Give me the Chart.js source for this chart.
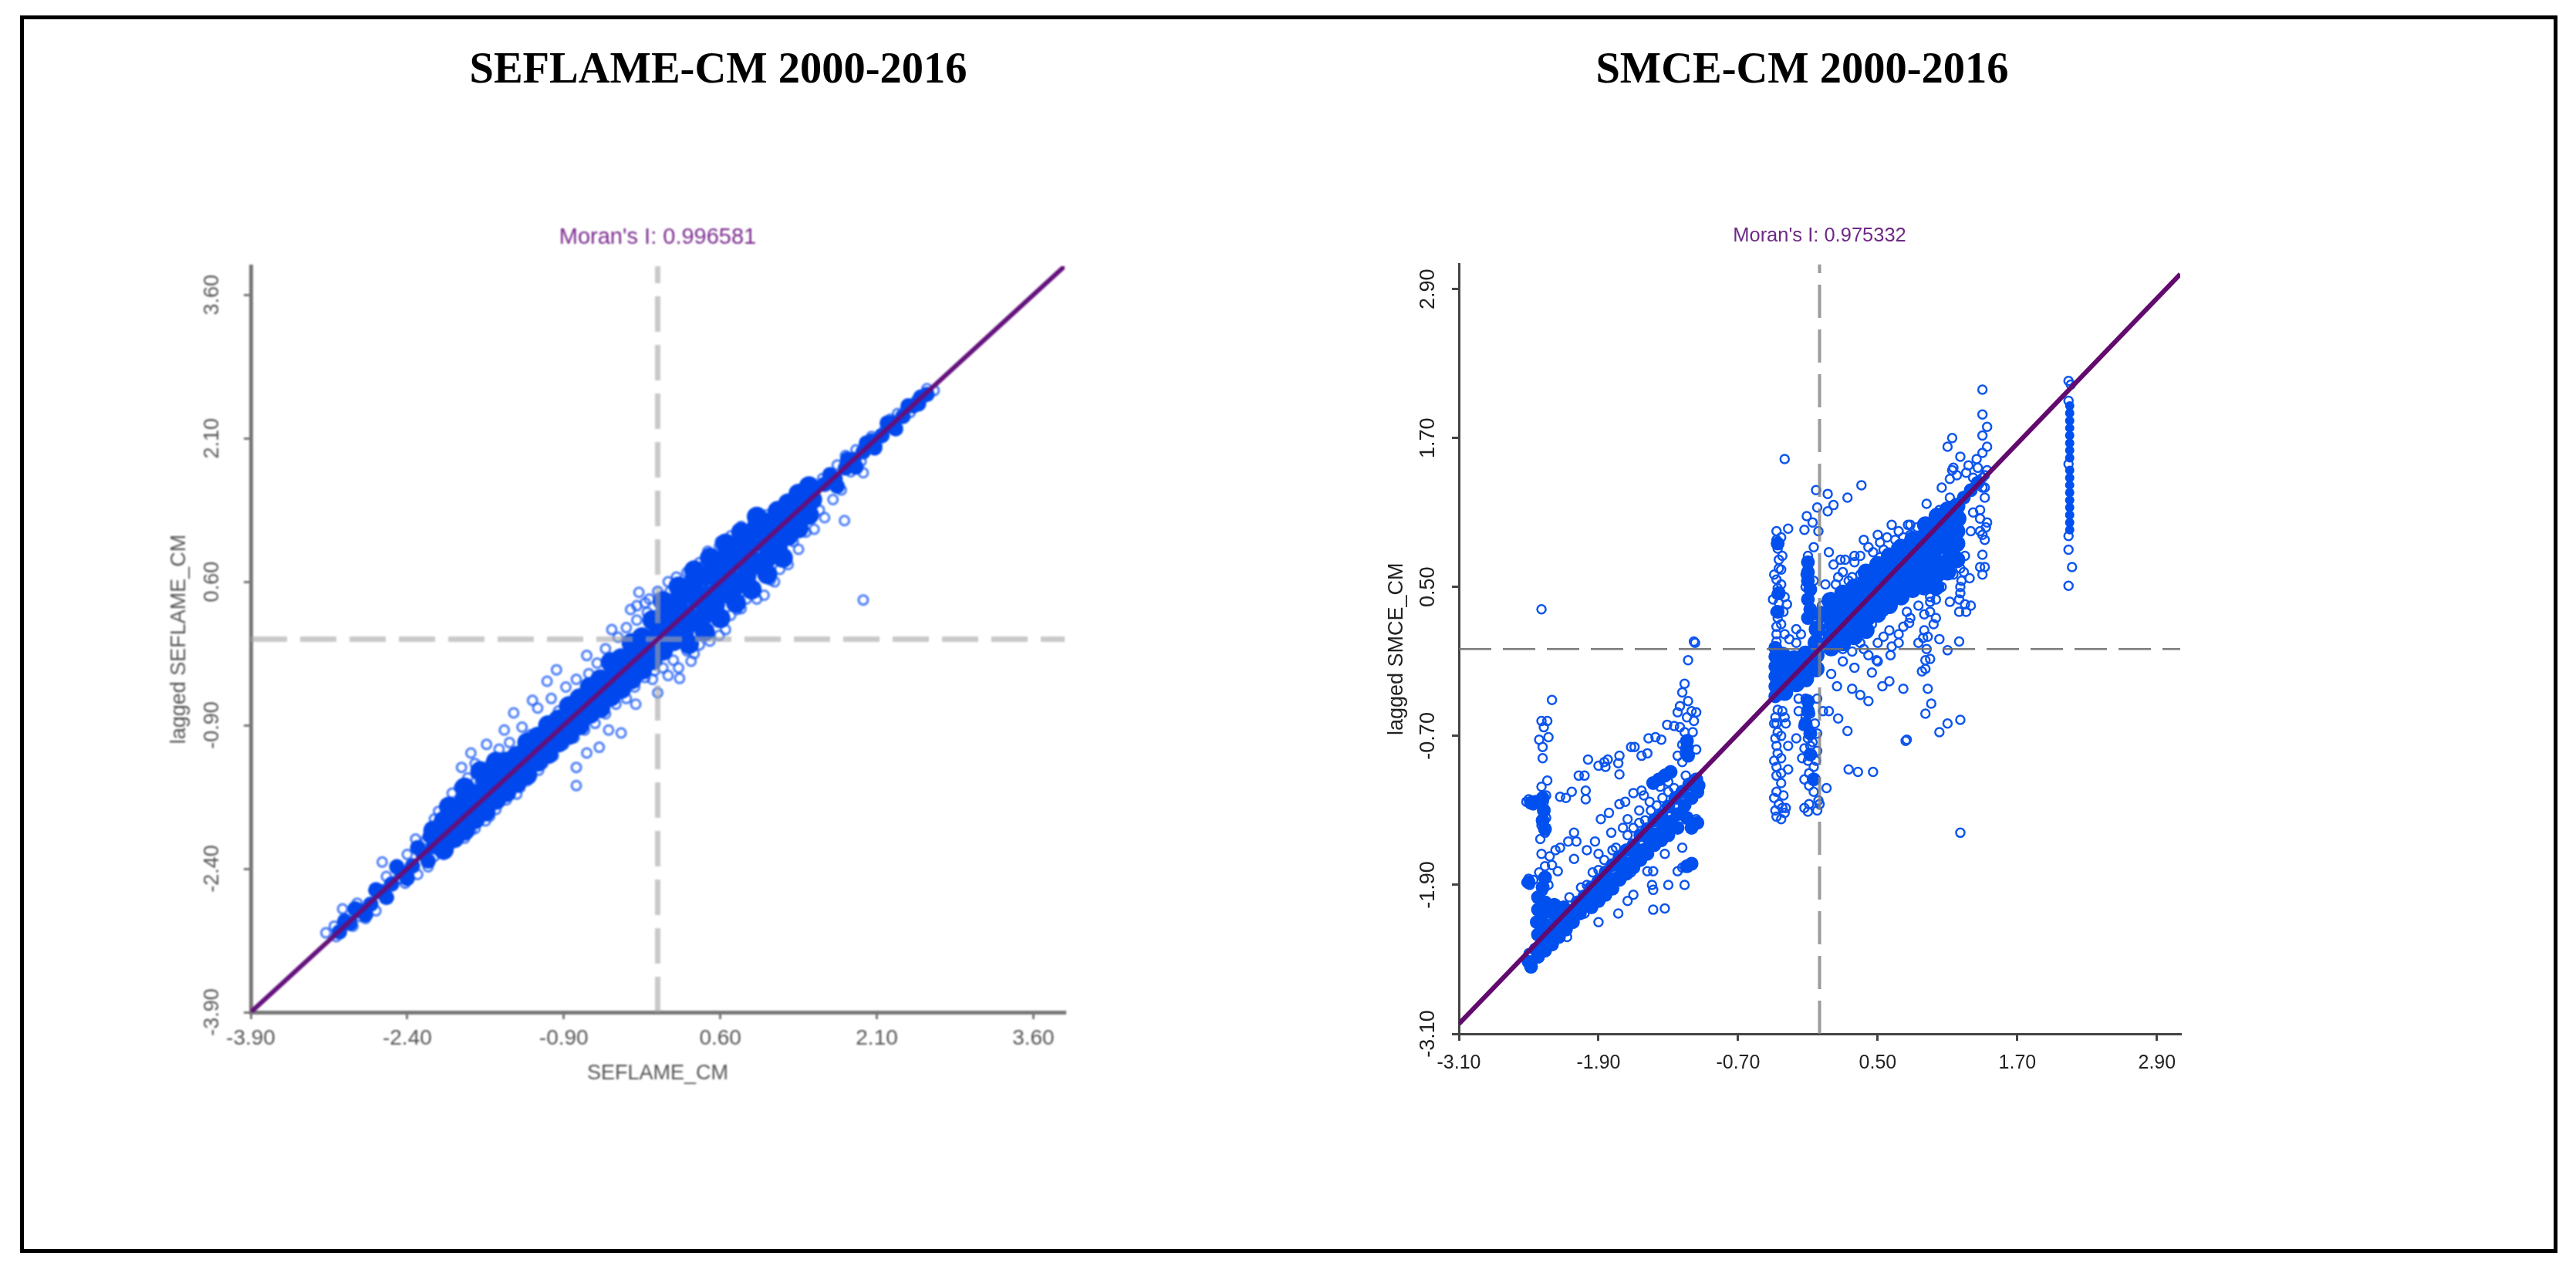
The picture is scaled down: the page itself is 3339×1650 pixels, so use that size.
<!DOCTYPE html>
<html>
<head>
<meta charset="utf-8">
<title>Moran scatter plots</title>
<script src="https://cdn.jsdelivr.net/npm/chart.js@4"></script>
<style>
  html, body { margin: 0; padding: 0; background: #fff; }
  #frame { position: absolute; left: 26px; top: 20px; width: 3279px; height: 1594px; border: 5px solid #000; }
  h2 { position: absolute; top: 56px; margin: 0; width: 900px; text-align: center; color: #000;
       font: bold 56.5px "Liberation Serif", serif; line-height: 64px; }
  #leftTitle { left: 481px; }
  #rightTitle { left: 1886px; }
  canvas { position: absolute; top: 260px; }
  #seflame { left: 152px; filter: blur(1.3px); }
  #smce { left: 1778px; filter: blur(0.5px); }
</style>
</head>
<body>
<div id="frame"></div>
<h2 id="leftTitle">SEFLAME-CM 2000-2016</h2>
<h2 id="rightTitle">SMCE-CM 2000-2016</h2>
<canvas id="seflame" width="1400" height="1180"></canvas>
<canvas id="smce" width="1161" height="1180"></canvas>
<script>
const seflameTicks = [-3.9, -2.4, -0.9, 0.6, 2.1, 3.6];
const smceTicks = [-3.1, -1.9, -0.7, 0.5, 1.7, 2.9];

const seflameLine = [[-3.9, -3.9], [3.9, 3.9]];
const smceLine = [[-3.1, -3.02], [3.1, 3.02]];

// solid part of the cloud, read along the band
const seflameCoreNarrow = [[-3.05,-3.06],[-2.95,-2.97],[-2.85,-2.84],[-2.75,-2.77],[-2.65,-2.64],[-2.55,-2.56],[-2.45,-2.44],[-2.35,-2.37],[-2.25,-2.24],[-2.15,-2.17],[1.6,1.62],[1.7,1.68],[1.8,1.79],[1.88,1.88],[1.97,1.96],[2.05,2.07],[2.15,2.13],[2.25,2.26],[2.35,2.33],[2.45,2.44],[2.52,2.53],
  [-3.0,-2.95],[-2.9,-2.82],[-2.8,-2.88],[-2.7,-2.62],[-2.6,-2.7],[-2.5,-2.38],[-2.4,-2.5],[-2.3,-2.18],[-2.2,-2.32],[-2.18,-2.06],[1.65,1.72],[1.72,1.6],[1.82,1.88],[1.9,1.8],[2.0,2.05],[2.08,2.0],[2.2,2.26],[2.28,2.2],[2.4,2.44],[2.5,2.46],[2.58,2.56]];
const seflameCoreWide = [[-2.1,-2.07],[-2.02,-1.96],[-1.92,-1.9],[-1.82,-1.78],[-1.72,-1.7],[-1.62,-1.56],[-1.52,-1.5],[-1.42,-1.36],[-1.32,-1.3],[-1.22,-1.17],[-1.12,-1.12],[-1.02,-0.97],[-0.92,-0.92],[-0.82,-0.78],[-0.72,-0.72],[-0.62,-0.58],[-0.52,-0.52],[-0.42,-0.38],[-0.32,-0.32],[-0.22,-0.18],[-0.12,-0.12],[-0.02,0.02],[0.08,0.08],[0.18,0.22],[0.28,0.26],[0.38,0.42],[0.48,0.46],[0.58,0.62],[0.68,0.66],[0.78,0.82],[0.88,0.86],[0.98,1.02],[1.08,1.06],[1.18,1.2],[1.28,1.27],[1.38,1.4],[1.48,1.46],
  [-2.15,-2.0],[-2.05,-1.9],[-1.95,-1.86],[-1.85,-1.68],[-1.75,-1.62],[-1.65,-1.46],[-1.55,-1.42],[-1.45,-1.28],[-1.35,-1.22],[-1.25,-1.08],[-1.15,-1.02],[-1.05,-0.9],[-0.95,-0.84],[-0.85,-0.7],[-0.75,-0.62],[-0.65,-0.5],[-0.55,-0.42],[-0.45,-0.24],[-0.35,-0.2],[-0.25,-0.04],[-0.15,0.02],[-0.05,0.2],[0.05,0.24],[0.15,0.38],[0.25,0.46],[0.35,0.6],[0.45,0.66],[0.55,0.8],[0.65,0.85],[0.75,0.98],[0.85,1.05],[0.95,1.18],[1.05,1.22],[1.15,1.34],[1.25,1.42],[1.35,1.52],[1.45,1.6],
  [-2.05,-2.2],[-1.95,-2.08],[-1.85,-2.0],[-1.75,-1.88],[-1.65,-1.8],[-1.55,-1.68],[-1.45,-1.6],[-1.35,-1.5],[-1.25,-1.42],[-1.15,-1.28],[-1.05,-1.2],[-0.95,-1.08],[-0.85,-1.0],[-0.75,-0.9],[-0.65,-0.78],[-0.55,-0.72],[-0.45,-0.6],[-0.35,-0.52],[-0.25,-0.42],[-0.15,-0.32],[-0.05,-0.22],[0.05,-0.12],[0.15,-0.02],[0.25,0.06],[0.35,0.18],[0.45,0.26],[0.55,0.36],[0.65,0.48],[0.75,0.56],[0.85,0.66],[0.95,0.78],[1.05,0.85],[1.15,0.96],[1.25,1.08],[1.35,1.16],[1.45,1.3],
  [0.05,0.4],[0.2,0.55],[0.35,0.72],[0.5,0.85],[0.65,1.0],[0.8,1.12],[0.95,1.28],[0.3,-0.05],[0.45,0.08],[0.6,0.22],[0.75,0.38],[0.9,0.52],[1.05,0.68],[1.2,0.85],[-2.0,-1.75],[-1.85,-1.55],[-1.7,-1.38],[-1.55,-1.28]];
const seflameRings = [[2.65,2.6],[2.55,2.54],[2.58,2.62],[2.48,2.5],[2.38,2.42],[2.42,2.37],[2.3,2.36],[2.23,2.3],[2.18,2.2],[2.05,2.12],[2.1,2.03],[1.97,1.74],[1.79,1.24],[1.97,0.41],[1.9,1.98],[1.95,1.86],[1.8,1.92],[1.85,1.75],[1.72,1.82],[1.6,1.27],[1.35,0.94],[1.02,0.46],[0.76,0.31],[0.59,0.97],[0.32,0.73],[-0.18,0.49],[-0.26,0.31],[-0.44,0.1],[-0.68,-0.17],[-0.97,-0.32],[-1.06,-0.44],[-1.2,-0.64],[-1.38,-0.77],[-1.47,-0.95],[-1.64,-1.1],[-1.79,-1.19],[-1.88,-1.34],[-1.97,-1.61],[-2.14,-1.88],[-2.32,-2.09],[-2.64,-2.33],[-3.02,-2.82],[-3.18,-3.07],[-0.78,-1.53],[-0.78,-1.34],[-0.68,-1.19],[-0.56,-1.13],[-0.35,-0.98],[-0.47,-0.95],[-0.21,-0.68],[0,-0.56],[0.21,-0.41],[0.32,-0.23],[0.59,0.04],[1.17,0.73],[1.5,1.15],[-1.14,-1.37],[-1.32,-1.55],[-1.61,-1.85],[-1.79,-2.0],[-2.14,-2.27],[-2.49,-2.51],[-2.85,-2.9],[-3.08,-3.11],
  [-3.1,-3.0],[-3.0,-2.92],[-2.92,-3.0],[-2.88,-2.76],[-2.8,-2.92],[-2.72,-2.63],[-2.7,-2.84],[-2.6,-2.48],[-2.58,-2.7],[-2.5,-2.36],[-2.42,-2.55],[-2.4,-2.25],[-2.3,-2.46],[-2.22,-2.1],[-2.2,-2.38],[-2.1,-1.8],[-2.05,-2.25],[-2.08,-1.95],[-1.95,-1.72],[-1.98,-2.14],[-1.9,-1.55],[-1.85,-2.08],[-1.82,-1.45],[-1.75,-1.98],[-1.75,-1.3],[-1.7,-1.5],[-1.65,-1.9],[-1.6,-1.3],[-1.55,-1.78],[-1.52,-1.15],[-1.45,-1.68],[-1.42,-1.08],[-1.35,-1.62],[-1.3,-0.92],[-1.25,-1.48],[-1.22,-1.0],[-1.15,-0.72],[-1.1,-1.3],[-1.02,-0.62],[-1.0,-1.22],[-0.95,-0.75],[-0.9,-1.1],[-0.88,-0.5],[-0.8,-1.03],[-0.78,-0.42],[-0.7,-0.95],[-0.66,-0.36],[-0.6,-0.88],[-0.58,-0.25],[-0.5,-0.78],[-0.5,-0.1],[-0.4,-0.68],[-0.38,0.02],[-0.3,-0.62],[-0.3,0.12],[-0.22,-0.5],[-0.2,0.2],[-0.12,-0.4],[-0.1,0.28],[-0.03,-0.33],[0.02,0.42],[0.05,-0.3],[0.12,0.5],[0.15,-0.22],[0.22,0.55],[0.28,-0.12],[0.3,0.62],[0.4,-0.06],[0.42,0.75],[0.5,0.06],[0.52,0.82],[0.62,0.18],[0.65,0.95],[0.7,0.25],[0.72,0.92],[0.85,0.42],[0.82,1.08],[0.92,0.52],[0.95,1.22],[1.08,0.62],[1.05,1.3],[1.2,0.82],[1.18,1.36],[1.3,1.02],[1.32,1.5],[1.42,1.12],[1.45,1.6],[1.55,1.35],[1.58,1.68],[1.68,1.46],[1.66,1.72],[1.76,1.56],
  [-0.2,0.35],[-0.12,0.38],[-0.08,0.42],[0.0,0.5],[0.1,0.6],[0.18,0.65],[0.28,0.7],[0.4,0.8],[0.48,0.92],[0.6,1.02],[0.7,1.08],[0.8,1.18],[-0.05,-0.42],[0.1,-0.38],[0.2,-0.3],[0.35,-0.15],[0.5,-0.02],[0.65,0.1],[0.8,0.32],[0.95,0.42],[1.12,0.6],[1.25,0.78]];

const seflameMeanV = [[0, -3.9], [0, 3.9]];
const seflameMeanH = [[-3.9, 0], [3.9, 0]];
const smceMeanV = [[0, -3.1], [0, 3.1]];
const smceMeanH = [[-3.1, 0], [3.1, 0]];

const smceCoreNarrow = [[-2.5,-2.52],[-2.44,-2.42],[-2.38,-2.35],[-2.32,-2.3],[-2.26,-2.22],[-2.2,-2.17],[-2.14,-2.11],[-2.08,-2.04],[-2.02,-1.99],[-1.96,-1.92],[-1.9,-1.87],[-1.84,-1.8],[-1.78,-1.74],[-1.72,-1.68],[-1.66,-1.62],[-1.6,-1.58],[-1.54,-1.5],[-1.48,-1.45],[-1.42,-1.38],[-1.36,-1.34],[-1.3,-1.27],[-1.24,-1.2],[-1.18,-1.15],[-1.12,-1.09],[-1.06,-1.05],
  [-2.48,-2.56],[-2.42,-2.48],[-2.36,-2.43],[-2.3,-2.38],[-2.24,-2.32],[-2.18,-2.26],[-2.12,-2.2],[-2.06,-2.13],[-2.0,-2.07],[-1.94,-2.02],[-1.88,-1.96],[-1.82,-1.9],[-1.76,-1.85],[-1.7,-1.78],[-1.64,-1.73],[-1.58,-1.66],[-1.52,-1.62],[-1.46,-1.55],[-1.4,-1.49],[-1.34,-1.44],[-1.28,-1.39],[-1.22,-1.33],[-1.16,-1.26],[-1.1,-1.2],[-1.05,-1.15],[-1.04,-1.1],[-1.3,-1.5],[-1.22,-1.44],[-1.14,-1.36],
  [-1.96,-2.08],[-1.9,-2.03],[-1.84,-1.98],[-1.78,-1.93],[-1.72,-1.86],[-1.66,-1.81],[-1.6,-1.76],[-1.54,-1.7],[-1.48,-1.65],[-1.42,-1.58],[-1.36,-1.54],
  // the triangle above the line at the far left
  [-2.42,-2.3],[-2.43,-2.2],[-2.42,-2.1],[-2.42,-2.0],[-2.36,-2.22],[-2.36,-2.12],[-2.36,-2.04],[-2.28,-2.14],[-2.28,-2.06],[-2.2,-2.08],[-2.38,-1.92],[-2.36,-1.84],
  // clusters at the top of the lower group
  [-2.38,-1.2],[-2.37,-1.3],[-2.38,-1.38],[-2.36,-1.45],[-2.48,-1.24],[-2.44,-1.23],[-2.5,-1.88],[-1.38,-1.05],[-1.33,-1.02],[-1.28,-0.99],[-1.43,-1.08],[-1.14,-0.74],[-1.14,-0.8],[-1.13,-0.86],[-1.05,-1.4],[-1.1,-1.44],[-1.1,-1.73],[-1.14,-1.75],
  // columns on the left of the upper group
  [-0.38,-0.38],[-0.38,-0.3],[-0.38,-0.22],[-0.38,-0.14],[-0.38,-0.06],[-0.38,0.01],[-0.1,0.7],[-0.1,0.62],[-0.1,0.55],[-0.08,0.48],[-0.1,0.4],[-0.08,0.32],[-0.1,0.25],[-0.1,-0.42],[-0.1,-0.5],[-0.12,-0.6],[-0.08,-0.68],[-0.08,-0.85],[-0.05,-1.05],[-0.35,0.45],[-0.36,0.3],[-0.36,0.85],
  [1.3,1.28],[1.36,1.34],[1.24,1.22]];
const smceCoreMid = [[-0.32,-0.05],[-0.32,-0.15],[-0.3,-0.25],[-0.3,-0.35],[-0.22,-0.08],[-0.22,-0.18],[-0.2,-0.28],[-0.12,-0.04],[-0.12,-0.14],[-0.12,-0.24],[-0.03,0.05],[-0.03,-0.05],[-0.03,-0.16],[-0.02,0.16],[0.02,0.28],
  [0.1,0.01],[0.1,0.1],[0.11,0.2],[0.1,0.3],[0.09,0.39],[0.2,0.05],[0.21,0.15],[0.2,0.25],[0.19,0.35],[0.2,0.45],[0.3,0.1],[0.31,0.2],[0.3,0.3],[0.29,0.4],[0.3,0.5],[0.4,0.15],[0.41,0.25],[0.4,0.35],[0.39,0.45],[0.4,0.55],[0.4,0.62],[0.5,0.28],[0.51,0.38],[0.5,0.48],[0.49,0.58],[0.5,0.68],[0.6,0.35],[0.61,0.45],[0.6,0.55],[0.59,0.65],[0.6,0.75],[0.7,0.42],[0.71,0.52],[0.7,0.62],[0.69,0.72],[0.7,0.82],[0.8,0.48],[0.81,0.58],[0.8,0.68],[0.79,0.78],[0.8,0.88],[0.9,0.5],[0.91,0.6],[0.9,0.7],[0.89,0.8],[0.9,0.9],[0.91,1.0],[1.0,0.5],[1.01,0.6],[1.0,0.7],[0.99,0.8],[1.0,0.9],[1.0,1.0],[1.01,1.07],[1.1,0.62],[1.11,0.72],[1.1,0.82],[1.09,0.92],[1.1,1.02],[1.1,1.12],[1.18,0.72],[1.18,0.85],[1.18,0.95],[1.19,1.05],[1.18,1.15]];
const smceFarCore = [[2.15,1.96],[2.15,1.9],[2.15,1.84],[2.15,1.78],[2.15,1.72],[2.15,1.66],[2.15,1.6],[2.15,1.54],[2.15,1.44],[2.15,1.38],[2.15,1.32],[2.15,1.26],[2.15,1.2],[2.15,1.14],[2.15,1.08],[2.15,1.02],[2.15,0.96]];
const smceRings = [
  // lower left group
  [-2.39,0.32],[-2.3,-0.41],[-2.39,-0.58],[-2.34,-0.58],[-2.37,-0.63],[-2.41,-0.73],[-2.33,-0.71],[-2.38,-0.79],[-2.38,-0.88],[-2.34,-1.06],[-2.39,-1.11],[-2.52,-1.23],[-2.49,-1.24],[-2.46,-1.26],[-2.42,-1.25],[-2.37,-1.23],[-2.35,-1.18],[-2.5,-1.21],[-2.47,-1.22],[-2.37,-1.3],[-2.35,-1.36],[-2.39,-1.42],[-2.36,-1.48],[-2.4,-1.53],[-2.23,-1.19],[-2.18,-1.2],[-2.13,-1.15],[-2.07,-1.02],[-2.02,-1.02],[-2.01,-1.14],[-2.01,-1.21],[-1.99,-0.89],[-1.9,-0.94],[-1.85,-0.91],[-1.82,-0.89],[-1.84,-0.95],[-1.72,-0.86],[-1.73,-0.92],[-1.72,-1.01],[-1.62,-0.79],[-1.59,-0.79],[-1.53,-0.86],[-1.48,-0.84],[-1.47,-0.72],[-1.41,-0.71],[-1.36,-0.73],[-1.31,-0.61],[-1.25,-0.62],[-1.2,-0.63],[-1.13,-0.09],[-1.08,0.06],[-1.07,0.05],[-1.16,-0.28],[-1.18,-0.35],[-1.13,-0.42],[-1.2,-0.46],[-1.22,-0.51],[-1.06,-0.51],[-1.08,-0.58],[-1.09,-0.67],[-1.16,-0.67],[-1.18,-0.77],[-1.22,-0.86],[-1.18,-0.91],[-1.06,-0.81],[-1.16,-0.84],[-1.1,-0.5],[-1.14,-0.55],
  [-1.88,-1.37],[-1.81,-1.32],[-1.72,-1.25],[-1.67,-1.23],[-1.6,-1.16],[-1.53,-1.14],[-1.51,-1.18],[-1.44,-1.07],[-1.39,-1.05],[-1.32,-1.0],[-1.3,-1.07],[-1.37,-1.11],[-1.46,-1.23],[-1.55,-1.3],[-1.65,-1.37],[-1.69,-1.44],[-1.79,-1.48],[-1.93,-1.55],[-2.0,-1.62],[-2.11,-1.48],[-2.09,-1.55],[-2.16,-1.55],[-2.23,-1.6],[-2.27,-1.62],[-2.3,-1.74],[-2.25,-1.79],[-2.32,-1.67],[-2.11,-1.69],[-1.9,-1.65],[-2.39,-1.65],[-2.36,-1.75],[-2.41,-1.8],[-2.35,-1.85],[-2.33,-1.9],[-2.38,-1.95],[-2.52,-1.88],[-2.49,-1.9],[-2.46,-1.86],[-2.5,-1.85],
  [-1.09,-1.72],[-1.13,-1.74],[-1.18,-1.76],[-1.22,-1.79],[-1.3,-1.9],[-1.16,-1.9],[-1.18,-1.6],[-1.09,-1.4],[-1.06,-1.37],[-1.33,-1.65],[-1.48,-1.79],[-1.43,-1.79],[-1.44,-1.9],[-1.43,-1.94],[-1.43,-2.1],[-1.33,-2.09],[-1.6,-1.98],[-1.65,-2.03],[-1.73,-2.13],[-1.9,-2.2],[-2.17,-2.32],[-2.02,-2.13],[-1.88,-2.02],[-1.8,-1.9],[-1.7,-1.85],[-1.62,-1.8],[-2.5,-2.45],[-2.28,-2.1],[-2.15,-2.0],[-2.05,-1.92],[-1.95,-1.8],[-1.85,-1.7],[-1.75,-1.6],[-1.65,-1.5],[-1.55,-1.4],[-1.45,-1.3],[-1.35,-1.2],[-1.25,-1.12],[-1.15,-1.02],[-2.0,-1.9],[-1.9,-1.78],[-1.78,-1.62],[-1.6,-1.44],[-1.5,-1.38],[-1.4,-1.26],[-1.3,-1.15],
  // columns at the start of the upper group
  [-0.37,0.95],[-0.37,0.88],[-0.36,0.81],[-0.35,0.72],[-0.35,0.65],[-0.37,0.56],[-0.36,0.49],[-0.33,0.52],[-0.37,0.44],[-0.35,0.37],[-0.38,0.3],[-0.36,0.25],[-0.31,0.3],[-0.37,0.18],[-0.37,0.12],[-0.37,0.06],[-0.37,0],[-0.36,-0.49],[-0.38,-0.55],[-0.37,-0.6],[-0.36,-0.67],[-0.38,-0.72],[-0.37,-0.78],[-0.36,-0.84],[-0.33,-0.88],[-0.37,-0.95],[-0.37,-1.02],[-0.33,-1.08],[-0.37,-1.15],[-0.35,-1.25],[-0.32,-1.28],[-0.37,-1.35],[-0.33,-1.37],[-0.29,-0.6],[-0.27,-0.78],[-0.29,-1.28],[-0.27,-0.97],[-0.3,-1.32],[-0.3,0.42],[-0.28,0.36],[-0.3,0.12],[-0.26,0.08],[-0.32,-0.5],[-0.3,-0.55],[-0.33,0.64],
  [-0.33,0.9],[-0.32,0.75],[-0.39,0.6],[-0.33,0.2],[-0.4,0.4],[-0.39,-0.6],[-0.33,-0.7],[-0.39,-0.9],[-0.33,-1.0],[-0.39,-1.2],[-0.31,-1.18],[-0.38,-1.3],
  [-0.1,0.75],[-0.1,0.68],[-0.12,0.6],[-0.12,0.5],[-0.05,0.82],[-0.12,-0.4],[-0.1,-0.48],[-0.12,-0.55],[-0.08,-0.52],[-0.04,-0.6],[-0.1,-0.63],[-0.02,-0.68],[-0.1,-0.72],[-0.08,-0.78],[-0.02,-0.82],[-0.1,-0.9],[-0.09,-1.0],[-0.05,-0.95],[-0.09,-1.1],[-0.09,-1.25],[-0.1,-1.31],[0,-1.25],[-0.02,-1.3],[-0.01,-1.22],[0.06,-1.12],[-0.18,-0.5],[-0.2,-0.72],[-0.15,-0.88],[-0.18,-0.4],[0.03,-0.5],[-0.02,-0.4],[-0.2,0.05],[-0.16,0.12],[-0.2,0.16],[-0.05,0.55],
  [-0.14,-0.62],[-0.06,-0.75],[-0.13,-0.8],[-0.03,-0.9],[-0.13,-1.05],[-0.05,-1.15],[-0.13,-1.28],
  // top of the upper group
  [-0.3,1.53],[-0.03,1.28],[0.07,1.25],[0.12,1.16],[0.24,1.22],[0.36,1.32],[-0.02,1.14],[-0.11,1.07],[-0.06,1.02],[0.07,1.11],[-0.27,0.97],[-0.13,0.96],[-0.01,0.95],[0.08,0.78],[0.12,0.68],[0.22,0.72],[0.3,0.75],[0.38,0.88],[0.5,0.92],[0.62,1.0],[0.76,1.0],[0.9,0.95],[0.92,1.17],[1.05,1.3],[1.03,1.12],[1.12,1.22],[0.05,0.52],[0.16,0.58],[0.28,0.58],[0.4,0.64],[0.52,0.74],[0.66,0.82],[0.78,0.92],[0.02,0.35],[0.1,0.42],[0.3,0.48],[-0.03,0.27],
  [0.3,0.7],[0.35,0.75],[0.42,0.82],[0.46,0.78],[0.52,0.86],[0.58,0.9],[0.55,0.8],[0.65,0.88],[0.68,0.95],[0.72,0.9],[0.78,1.0],[0.84,0.98],[0.14,0.52],[0.2,0.62],[0.25,0.55],[0.35,0.6],[0.18,0.72],
  // lower right of the upper group
  [1.21,-1.48],[1.21,-0.57],[1.1,-0.6],[1.03,-0.67],[0.75,-0.73],[0.74,-0.74],[0.91,-0.52],[0.93,-0.32],[0.96,-0.44],[0.25,-0.97],[0.33,-0.99],[0.46,-0.99],[0.24,-0.66],[0.16,-0.56],[0.08,-0.5],[0.72,-0.32],[0.6,-0.26],[0.54,-0.3],[0.42,-0.42],[0.35,-0.37],[0.28,-0.32],[0.38,0],[1.1,-0.01],[1.2,0.06],[1.03,0.08],[0.91,-0.09],[0.91,-0.16],[0.89,0.09],[0.77,0.21],[0.68,0.05],[0.61,-0.05],[0.49,-0.09],[0.45,-0.19],[0.2,-0.1],[0.1,-0.2],[0.3,-0.15],[0.15,-0.3],[0.5,0.05],[0.6,0.15],[0.75,0.3],[0.85,0.35],[0.95,0.42],[1.05,0.5],[1.15,0.6],[1.21,0.45],[1.2,0.3],[1.12,0.38],[1.0,0.25],[0.9,0.28],[0.55,0.3],[0.45,0.2],
  [0.2,0],[0.28,-0.02],[0.35,0.05],[0.42,-0.05],[0.5,-0.1],[0.55,0.1],[0.62,0.02],[0.68,0.12],[0.72,0.18],[0.78,0.25],[0.85,0.05],[0.9,0.15],[0.95,0.3],[0.98,0.2],[0.92,0],[0.95,-0.08],[0.88,-0.18],[0.95,0.38],[1.0,0.4],[0.93,0.1],
  // right end
  [1.4,2.09],[1.4,1.89],[1.44,1.79],[1.4,1.72],[1.44,1.63],[1.4,1.58],[1.14,1.7],[1.1,1.63],[1.21,1.55],[1.14,1.44],[1.12,1.37],[1.28,1.48],[1.35,1.53],[1.4,1.3],[1.42,1.22],[1.38,1.12],[1.44,1.02],[1.38,0.95],[1.42,0.88],[1.4,0.76],[1.42,0.66],[1.4,0.6],[1.29,0.57],[1.21,0.65],[1.21,0.5],[1.26,0.3],[1.3,0.35],[1.32,1.38],[1.26,1.42],[1.36,1.46],[1.42,1.4],[1.44,1.44],[1.3,0.95],[1.32,1.1],[1.25,0.75],[1.4,1.38],[1.42,1.3],[1.38,1.05],[1.43,0.98],[1.4,0.92],[1.38,0.66],[1.22,0.55],[1.24,0.62],[1.2,0.4],[1.25,0.36],[1.15,1.46],[1.18,1.4],
  // the far column
  [2.14,2.16],[2.16,2.13],[2.14,2.0],[2.14,1.49],[2.14,0.91],[2.14,0.8],[2.17,0.66],[2.14,0.51]
];

function toPoints(pairs) {
  return pairs.map(([x, y]) => ({ x, y }));
}

function lineSet(pairs, color, width, dash) {
  return { type: "scatter", data: toPoints(pairs), showLine: true, pointRadius: 0, borderColor: color, borderWidth: width, borderDash: dash || [] };
}

function filledSet(pairs, color, radius) {
  return { data: toPoints(pairs), backgroundColor: color, borderWidth: 0, pointRadius: radius };
}

function ringSet(pairs, color, radius, width) {
  return { data: toPoints(pairs), backgroundColor: "rgba(0,0,0,0)", borderColor: color, borderWidth: width, pointRadius: radius };
}

function axis(o) {
  return {
    type: "linear",
    min: o.min,
    max: o.max,
    border: { color: o.axisColor, width: o.axisWidth },
    grid: { drawOnChartArea: false, drawTicks: true, tickLength: 9, color: o.axisColor, lineWidth: 3 },
    afterBuildTicks: s => { s.ticks = o.ticks.map(value => ({ value })); },
    afterFit: s => { if (s.isHorizontal()) s.height = o.size; else s.width = o.size; },
    title: o.title ? { display: true, text: o.title, color: o.textColor, font: { family: "Liberation Sans", size: o.titleSize }, padding: o.titlePadding } : { display: false },
    ticks: {
      autoSkip: false,
      minRotation: o.rotation,
      maxRotation: o.rotation,
      crossAlign: o.rotation ? "center" : "near",
      padding: o.tickPadding,
      color: o.textColor,
      font: { family: "Liberation Sans", size: o.fontSize },
      callback: v => v.toFixed(2)
    }
  };
}

// Moran's I sits over the middle of the plot, not of the whole canvas
const moranLabel = {
  id: "moranLabel",
  afterDraw(chart, args, opts) {
    const { ctx, chartArea } = chart;
    ctx.save();
    ctx.font = opts.size + "px 'Liberation Sans'";
    ctx.fillStyle = opts.color;
    ctx.textAlign = "center";
    ctx.textBaseline = "middle";
    ctx.fillText(opts.text, (chartArea.left + chartArea.right) / 2, opts.y);
    ctx.restore();
  }
};

Chart.defaults.animation = false;
Chart.defaults.devicePixelRatio = 1;

new Chart("seflame", {
  type: "scatter",
  plugins: [moranLabel],
  data: {
    datasets: [
      lineSet(seflameLine, "#63107c", 6),
      lineSet(seflameMeanV, "rgba(165,165,165,0.6)", 7, [46, 17]),
      lineSet(seflameMeanH, "rgba(165,165,165,0.6)", 7, [47, 17]),
      filledSet(seflameCoreNarrow, "#0048ee", 10),
      filledSet(seflameCoreWide, "#0048ee", 13),
      ringSet(seflameRings, "rgba(20,85,245,0.75)", 6, 3)
    ]
  },
  options: {
    responsive: false,
    layout: { padding: { left: 0, right: 172, top: 85, bottom: 0 } },
    plugins: {
      legend: { display: false },
      tooltip: { enabled: false },
      moranLabel: { text: "Moran's I: 0.996581", color: "#7b2a8f", size: 29, y: 48 }
    },
    scales: {
      x: axis({ min: -3.9, max: 3.9, ticks: seflameTicks, size: 128, axisColor: "#777", axisWidth: 5, textColor: "#555", fontSize: 28, titleSize: 27, title: "SEFLAME_CM", titlePadding: { top: 0, bottom: 32 }, tickPadding: 8 }),
      y: axis({ min: -3.9, max: 3.9, ticks: seflameTicks, size: 173, axisColor: "#777", axisWidth: 5, textColor: "#555", fontSize: 27, titleSize: 27, title: "lagged SEFLAME_CM", titlePadding: { top: 64, bottom: 0 }, tickPadding: 10, rotation: 90 })
    }
  }
});

new Chart("smce", {
  type: "scatter",
  plugins: [moranLabel],
  data: {
    datasets: [
      lineSet(smceLine, "#620a6e", 6),
      lineSet(smceMeanV, "rgba(130,130,130,0.8)", 4, [43, 15]),
      lineSet(smceMeanH, "rgba(110,110,110,0.9)", 2.5, [42, 15]),
      filledSet(smceCoreMid, "#0050f0", 11),
      filledSet(smceCoreNarrow, "#0050f0", 9),
      filledSet(smceFarCore, "#0050f0", 6),
      ringSet(smceRings, "#0d55ee", 5.5, 2.5)
    ]
  },
  options: {
    responsive: false,
    layout: { padding: { left: 0, right: 113, top: 82.5, bottom: 0 } },
    plugins: {
      legend: { display: false },
      tooltip: { enabled: false },
      moranLabel: { text: "Moran's I: 0.975332", color: "#6e2a86", size: 25.5, y: 46 }
    },
    scales: {
      x: axis({ min: -3.1, max: 3.1, ticks: smceTicks, size: 100, axisColor: "#444", axisWidth: 3, textColor: "#222", fontSize: 25, tickPadding: 14 }),
      y: axis({ min: -3.1, max: 3.1, ticks: smceTicks, size: 113, axisColor: "#444", axisWidth: 3, textColor: "#222", fontSize: 27, titleSize: 27, title: "lagged SMCE_CM", titlePadding: { top: 16, bottom: 0 }, tickPadding: 0, rotation: 90 })
    }
  }
});
</script>
</body>
</html>
